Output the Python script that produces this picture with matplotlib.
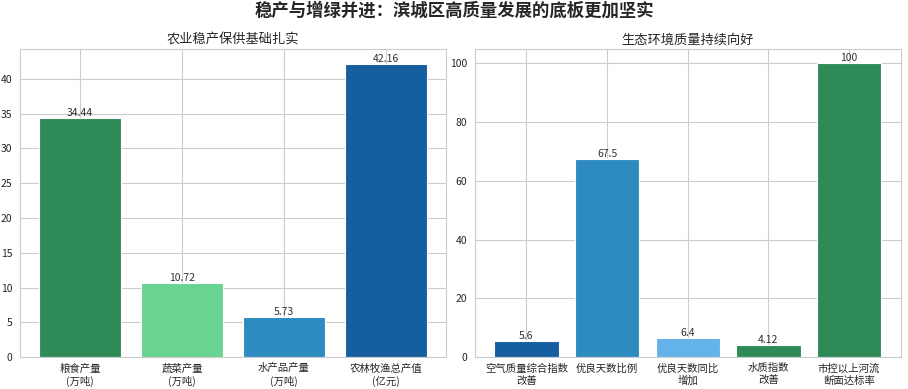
import matplotlib
matplotlib.use('Agg')
import matplotlib.pyplot as plt
import seaborn as sns

sns.set_style('whitegrid')
plt.rcParams['font.family'] = ['Noto Sans CJK SC', 'DejaVu Sans']
plt.rcParams['axes.unicode_minus'] = False

# 农业数据
agri_labels = ['粮食产量\n(万吨)', '蔬菜产量\n(万吨)', '水产品产量\n(万吨)', '农林牧渔总产值\n(亿元)']
agri_values = [34.44, 10.72, 5.73, 42.16]
agri_colors = ['#2e8b57', '#69d391', '#2e8bc0', '#155fa0']

# 生态数据
eco_labels = ['空气质量综合指数\n改善', '优良天数比例', '优良天数同比\n增加', '水质指数\n改善', '市控以上河流\n断面达标率']
eco_values = [5.6, 67.5, 6.4, 4.12, 100]
eco_colors = ['#155fa0', '#2e8bc0', '#63b3ea', '#2e8b57', '#2e8b57']

fig, (ax1, ax2) = plt.subplots(1, 2, figsize=(9.08, 3.89), dpi=100)
fig.subplots_adjust(left=0.022, right=0.992, top=0.874, bottom=0.082, wspace=0.068)

def draw(ax, labels, values, colors, title, fmt):
    bars = ax.bar(range(len(values)), values, color=colors, width=0.8, edgecolor='white', linewidth=0.8)
    ax.set_xticks(range(len(values)))
    ax.set_xticklabels(labels, fontsize=7.5, linespacing=1.25)
    ax.tick_params(axis='x', pad=1)
    ax.tick_params(axis='y', labelsize=7.5, pad=2)
    ax.set_title(title, fontsize=9.5, pad=4)
    for b, v in zip(bars, values):
        ax.text(b.get_x() + b.get_width() / 2, b.get_height(), fmt(v),
                ha='center', va='bottom', fontsize=7.5, color='#333333')
    for s in ax.spines.values():
        s.set_color('#cccccc')

draw(ax1, agri_labels, agri_values, agri_colors, '农业稳产保供基础扎实', lambda v: f'{v:.2f}')
draw(ax2, eco_labels, eco_values, eco_colors, '生态环境质量持续向好', lambda v: f'{v:g}')
ax1.set_ylim(0, 44.3)
ax2.set_ylim(0, 104.8)

fig.suptitle('稳产与增绿并进：滨城区高质量发展的底板更加坚实', fontsize=12.5, fontweight='bold', y=0.995)
fig.savefig('out.png', dpi=100)
